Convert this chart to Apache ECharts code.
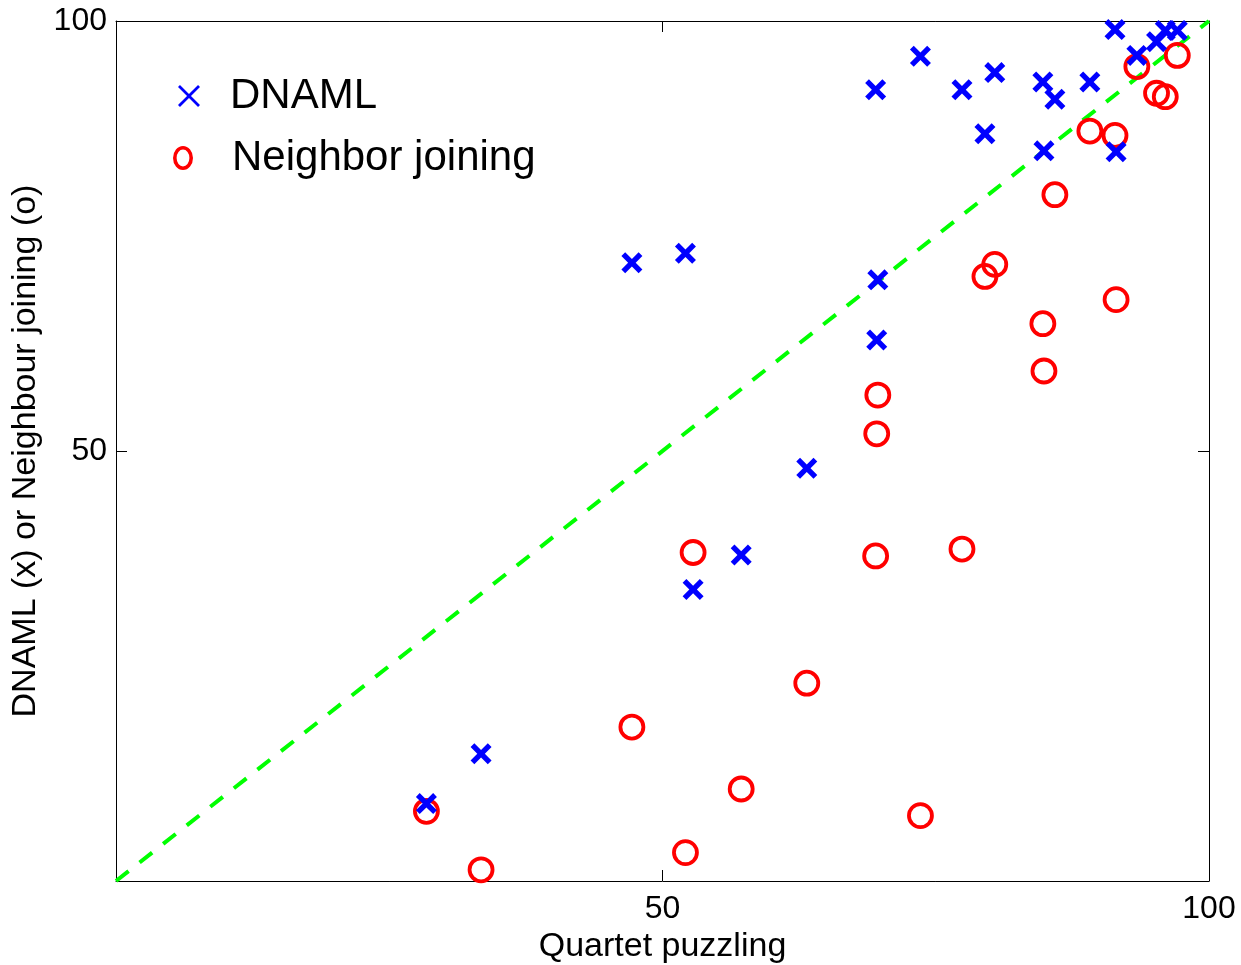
<!DOCTYPE html>
<html>
<head>
<meta charset="utf-8">
<script src="https://cdn.jsdelivr.net/npm/echarts@6/dist/echarts.min.js"></script>
<style>
html,body{margin:0;padding:0;background:#fff;}
#chart{width:1241px;height:965px;}
</style>
</head>
<body>
<div id="chart"></div>
<script>
// Data
const quartet = [28.4, 33.4, 47.2, 52.1, 52.8, 57.2, 63.2, 69.5, 69.7, 69.6, 73.6, 77.4, 79.5, 80.4, 84.8, 84.9, 85.9, 89.1, 91.4, 91.5, 93.4, 95.2, 96.0, 97.1];
const dnaml   = [9.0, 14.8, 71.9, 73.0, 33.9, 37.9, 48.0, 92.0, 69.9, 62.9, 95.9, 92.0, 86.9, 94.0, 92.9, 84.9, 90.9, 92.9, 99.0, 84.8, 96.0, 97.6, 98.9, 98.9];
const nj      = [8.1, 1.3, 17.9, 3.3, 38.2, 10.7, 23.0, 37.8, 56.5, 52.0, 7.6, 38.6, 70.3, 71.7, 64.8, 59.3, 79.8, 87.2, 86.7, 67.6, 94.7, 91.6, 91.2, 96.0];
const diagX   = [0, 100];
const diagY   = [0, 100];
const shownTicks = [50, 100];
const seriesNames = ['DNAML', 'Neighbor joining'];

const FONT = '"Liberation Sans", Arial, Helvetica, sans-serif';
const X_PATH = 'path://M0,1.8 L1.8,0 L5,3.2 L8.2,0 L10,1.8 L6.8,5 L10,8.2 L8.2,10 L5,6.8 L1.8,10 L0,8.2 L3.2,5 Z';
const X_THIN = 'path://M0,0.9 L0.9,0 L5,4.1 L9.1,0 L10,0.9 L5.9,5 L10,9.1 L9.1,10 L5,5.9 L0.9,10 L0,9.1 L4.1,5 Z';
const O_RING = 'path://M10,0 A10,12 0 1,1 10,24 A10,12 0 1,1 10,0 Z M10,3.6 A6.4,8.4 0 1,0 10,20.4 A6.4,8.4 0 1,0 10,3.6 Z';

const tickFmt = v => shownTicks.indexOf(v) >= 0 ? String(v) : '';

function baseAxis(extra) {
  return Object.assign({
    type: 'value', min: 0, max: 100, interval: 50,
    axisLine: { show: true, onZero: false, lineStyle: { color: '#000', width: 1 } },
    axisTick: { show: true, inside: true, length: 11, lineStyle: { color: '#000', width: 1 } },
    splitLine: { show: false },
    axisLabel: { show: false }
  }, extra);
}

const chart = echarts.init(document.getElementById('chart'), null, { renderer: 'canvas' });
chart.setOption({
  animation: false,
  backgroundColor: '#fff',
  textStyle: { fontFamily: FONT },
  grid: { left: 116, right: 32, top: 21, bottom: 84, containLabel: false, outerBoundsMode: 'none' },
  xAxis: [
    baseAxis({
      position: 'bottom',
      name: 'Quartet puzzling', nameLocation: 'middle', nameGap: 46,
      nameTextStyle: { fontSize: 34, color: '#000', fontFamily: FONT },
      axisLabel: { show: true, fontSize: 32, color: '#000', margin: 12, fontFamily: FONT, formatter: tickFmt }
    }),
    baseAxis({ position: 'top' })
  ],
  yAxis: [
    baseAxis({
      position: 'left',
      name: 'DNAML (x) or Neighbour joining (o)', nameLocation: 'middle', nameGap: 63,
      nameTextStyle: { fontSize: 34, color: '#000', fontFamily: FONT },
      axisLabel: { show: true, fontSize: 32, color: '#000', margin: 9, fontFamily: FONT, formatter: tickFmt }
    }),
    baseAxis({ position: 'right' })
  ],
  legend: [
    {
      data: [{ name: seriesNames[0], icon: X_THIN, itemStyle: { color: '#0000ff', borderWidth: 0 } }],
      left: 178, top: 75, orient: 'vertical', padding: 0,
      itemWidth: 22, itemHeight: 22, selectedMode: false,
      itemStyle: { borderWidth: 0 },
      textStyle: { fontSize: 42, color: '#000', fontFamily: FONT, padding: [0, 0, 26, 25] }
    },
    {
      data: [{ name: seriesNames[1], icon: O_RING, itemStyle: { color: '#ff0000', borderWidth: 0 } }],
      left: 173, top: 137, orient: 'vertical', padding: 0,
      itemWidth: 20, itemHeight: 24, selectedMode: false,
      itemStyle: { borderWidth: 0 },
      textStyle: { fontSize: 42, color: '#000', fontFamily: FONT, padding: [0, 0, 0, 34] }
    }
  ],
  series: [
    {
      name: 'diagonal', type: 'line', silent: true,
      data: diagX.map((x, i) => [x, diagY[i]]),
      symbol: 'none',
      lineStyle: { color: '#00ff00', width: 4, type: [16, 14], cap: 'butt' },
      z: 1
    },
    {
      name: seriesNames[1], type: 'scatter',
      data: quartet.map((x, i) => [x, nj[i]]),
      symbol: 'circle', symbolSize: 23,
      itemStyle: { color: 'rgba(0,0,0,0)', borderColor: '#ff0000', borderWidth: 3.8, opacity: 1 },
      emphasis: { disabled: true },
      z: 2
    },
    {
      name: seriesNames[0], type: 'scatter',
      data: quartet.map((x, i) => [x, dnaml[i]]),
      symbol: X_PATH, symbolSize: 21, symbolKeepAspect: true,
      itemStyle: { color: '#0000ff', opacity: 1 },
      emphasis: { disabled: true },
      z: 3
    }
  ]
});
</script>
</body>
</html>
